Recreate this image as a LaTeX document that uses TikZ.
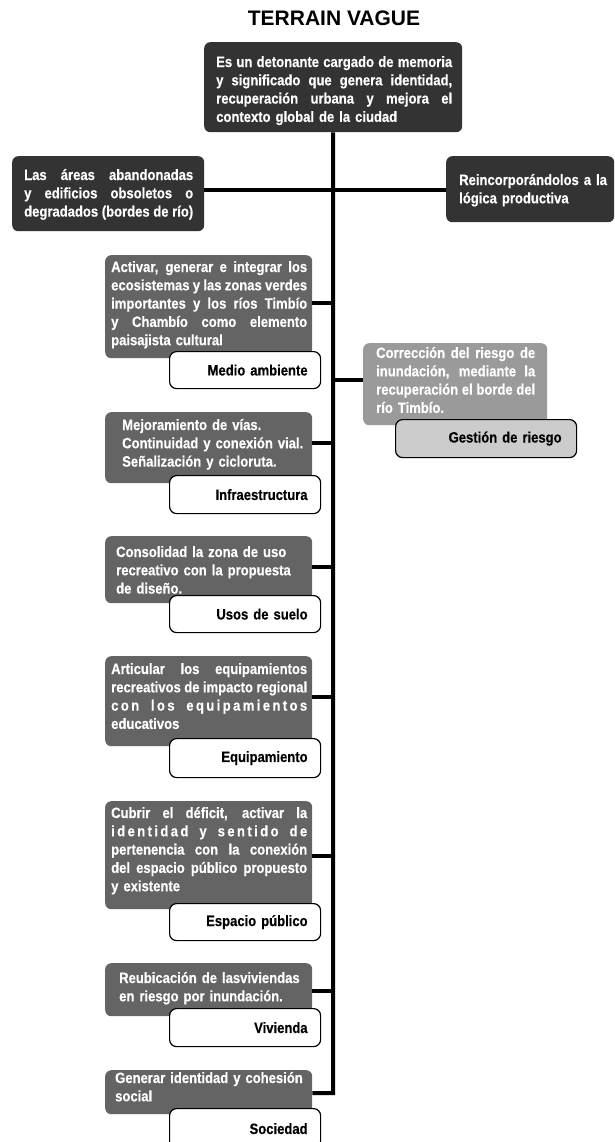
\documentclass[tikz,border=0pt]{standalone}
\usepackage{fontspec}
\setmainfont{Liberation Sans}
\newfontfamily\bodyfont[FakeStretch=0.87,FakeBold=0.4]{Liberation Sans}

\definecolor{boxdark}{HTML}{333333}
\definecolor{boxmid}{HTML}{646464}
\definecolor{boxlight}{HTML}{9A9A9A}
\definecolor{taglight}{HTML}{CCCCCC}

% one full-width justified line, and a letter-spaced variant
\newcommand\jl[1]{{\spaceskip=.24em plus 1fil minus .04em\makebox[\hsize][s]{#1}}}
\newcommand\jls[1]{{\addfontfeature{LetterSpace=16}\spaceskip=.24em plus 1fil\makebox[\hsize][s]{#1}}}

\tikzset{
  bodyfnt/.style={font=\bodyfont\bfseries\fontsize{15pt}{18.3pt}\selectfont},
  mainbox/.style={fill=boxdark, rounded corners=6pt, anchor=north west, inner sep=0pt},
  areabox/.style={fill=boxmid, rounded corners=6pt, anchor=north west, inner sep=0pt},
  riskbox/.style={fill=boxlight, rounded corners=6pt, anchor=north west, inner sep=0pt},
  boxtext/.style={bodyfnt, text=white, anchor=north west, inner sep=0pt},
  tagbox/.style={bodyfnt, draw=black, line width=1.2pt, fill=white, text=black,
    rounded corners=7pt, anchor=north west, inner xsep=13pt, inner ysep=0pt,
    text width=125pt, align=right},
  link/.style={line width=4pt, black},
}

\begin{document}
\begin{tikzpicture}[x=1pt, y=-1pt]
\useasboundingbox (0,0) rectangle (614,1142);

% title
\node[font=\bfseries\fontsize{21pt}{24pt}\selectfont, anchor=base] (title) at (334,26) {TERRAIN VAGUE};

% top level
\node[mainbox, minimum width=258pt, minimum height=90pt] (top) at (204,42) {};
\node[boxtext, text width=236pt] (toptxt) at (216,54)
  {\strut\jl{Es un detonante cargado de memoria}\\
   \jl{y significado que genera identidad,}\\
   \jl{recuperación urbana y mejora el}\\
   contexto global de la ciudad};
\node[mainbox, minimum width=192pt, minimum height=75pt] (left) at (12,156) {};
\node[boxtext, text width=169pt] (lefttxt) at (24,167)
  {\strut\jl{Las áreas abandonadas}\\
   \jl{y edificios obsoletos o}\\
   \jl{degradados (bordes de río)}};
\node[mainbox, minimum width=168pt, minimum height=66pt] (right) at (446,156) {};
\node[boxtext, text width=150pt] (righttxt) at (459,172)
  {\strut Reincorporándolos a la\\
   lógica productiva};

% medio ambiente
\node[areabox, minimum width=207pt, minimum height=103pt] (ma) at (105,255) {};
\node[boxtext, text width=196pt] (matxt) at (111,259)
  {\strut\jl{Activar, generar e integrar los}\\
   \jl{ecosistemas y las zonas verdes}\\
   \jl{importantes y los ríos Timbío}\\
   \jl{y Chambío como elemento}\\
   paisajista cultural};
\node[tagbox, minimum height=37pt] (matag) at (169,351) {Medio ambiente};

% gestion de riesgo
\node[riskbox, minimum width=184pt, minimum height=82pt] (gr) at (363,343) {};
\node[boxtext, text width=159pt] (grtxt) at (376,345)
  {\strut\jl{Corrección del riesgo de}\\
   \jl{inundación, mediante la}\\
   \jl{recuperación el borde del}\\
   río Timbío.};
\node[tagbox, fill=taglight, minimum height=38pt, text width=151pt, inner xsep=15pt] (grtag) at (395,419) {Gestión de riesgo};

% infraestructura
\node[areabox, minimum width=207pt, minimum height=71pt] (in) at (105,412) {};
\node[boxtext, text width=186pt] (intxt) at (122,417)
  {\strut Mejoramiento de vías.\\
   Continuidad y conexión vial.\\
   Señalización y cicloruta.};
\node[tagbox, minimum height=38pt] (intag) at (169,475) {Infraestructura};

% usos de suelo
\node[areabox, minimum width=207pt, minimum height=67pt] (us) at (105,536) {};
\node[boxtext, text width=190pt] (ustxt) at (116,544)
  {\strut Consolidad la zona de uso\\
   recreativo con la propuesta\\
   de diseño.};
\node[tagbox, minimum height=37pt] (ustag) at (169,595) {Usos de suelo};

% equipamiento
\node[areabox, minimum width=207pt, minimum height=90pt] (eq) at (105,656) {};
\node[boxtext, text width=196pt] (eqtxt) at (111,661)
  {\strut\jl{Articular los equipamientos}\\
   \jl{recreativos de impacto regional}\\
   \jls{con los equipamientos}\\
   educativos};
\node[tagbox, minimum height=39pt] (eqtag) at (169,738) {Equipamiento};

% espacio publico
\node[areabox, minimum width=207pt, minimum height=108pt] (ep) at (105,801) {};
\node[boxtext, text width=196pt] (eptxt) at (111,805)
  {\strut\jl{Cubrir el déficit, activar la}\\
   \jls{identidad y sentido de}\\
   \jl{pertenencia con la conexión}\\
   \jl{del espacio público propuesto}\\
   y existente};
\node[tagbox, minimum height=37pt] (eptag) at (169,903) {Espacio público};

% vivienda
\node[areabox, minimum width=207pt, minimum height=53pt] (vi) at (105,963) {};
\node[boxtext, text width=190pt] (vitxt) at (119,970)
  {\strut Reubicación de lasviviendas\\
   en riesgo por inundación.};
\node[tagbox, minimum height=38pt] (vitag) at (169,1008) {Vivienda};

% sociedad
\node[areabox, minimum width=207pt, minimum height=44pt] (so) at (105,1070) {};
\node[boxtext, text width=190pt] (sotxt) at (115,1070)
  {\strut Generar identidad y cohesión\\
   social};
\node[tagbox, minimum height=40pt] (sotag) at (169,1108) {Sociedad};

% trunk and branches
\coordinate (h)  at (333,190);
\coordinate (t1) at (333,303);
\coordinate (t2) at (333,380);
\coordinate (t3) at (333,443);
\coordinate (t4) at (333,567);
\coordinate (t5) at (333,697);
\coordinate (t6) at (333,856);
\coordinate (t7) at (333,991);
\coordinate (t8) at (333,1093);

\draw[link] (top.south) -- (t8) -- (t8 -| so.east);
\draw[link] (h -| left.east) -- (h -| right.west);
\draw[link] (t1 -| ma.east) -- (t1);
\draw[link] (t2) -- (t2 -| gr.west);
\draw[link] (t3 -| in.east) -- (t3);
\draw[link] (t4 -| us.east) -- (t4);
\draw[link] (t5 -| eq.east) -- (t5);
\draw[link] (t6 -| ep.east) -- (t6);
\draw[link] (t7 -| vi.east) -- (t7);
\end{tikzpicture}
\end{document}
